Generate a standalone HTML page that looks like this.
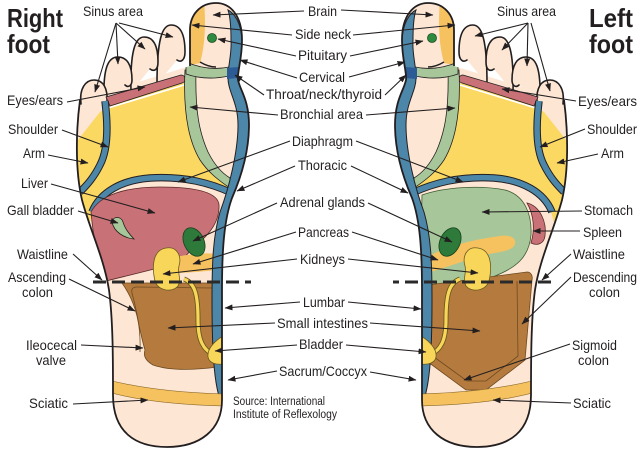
<!DOCTYPE html>
<html><head><meta charset="utf-8"><style>
html,body{margin:0;padding:0;background:#fff;}
svg{display:block;}
.t{font-family:"Liberation Sans",Arial,sans-serif;font-size:14px;fill:#231f20;}
.s{font-family:"Liberation Sans",Arial,sans-serif;font-size:11.5px;fill:#231f20;}
.h{font-family:"Liberation Sans",Arial,sans-serif;font-size:26px;font-weight:bold;fill:#231f20;}
</style></head><body>
<svg width="640" height="449" viewBox="0 0 640 449" xmlns="http://www.w3.org/2000/svg">
<rect width="640" height="449" fill="#fff"/>
<defs>
<marker id="ah" viewBox="0 0 8 6" refX="7.5" refY="3" markerWidth="8" markerHeight="6" orient="auto" markerUnits="userSpaceOnUse"><path d="M0,0 L8,3 L0,6 Z" fill="#231f20"/></marker>
<path id="bodyR" d="M80,100 C76,130 75,170 82,200 C90,230 104,258 109,290 C113,320 113,360 113,395 C113,432 135,447 167,447 C200,447 222,430 222,400 L222,290 C222,250 224,220 232,198 C242,175 249,150 249,125 C249,100 240,90 238,80 C237,72 242,60 242,40 C242,15 230,3 216,3 C200,3 190,15 190,30 L190,66"/>
<clipPath id="clipR"><use href="#bodyR"/></clipPath>
<clipPath id="clipL"><use href="#bodyR" transform="translate(644 0) scale(-1 1)"/></clipPath>

<g id="baseA">
 <use href="#bodyR" fill="#fde6d4"/>
 <g fill="#fde6d4" stroke="#231f20" stroke-width="1.6" stroke-linecap="round">
  <path d="M157,84 C157,40 162,25 171,25 C180,25 185,33 185,52 C185,60 181,63 177,60"/>
  <path d="M131,92 C130,52 135,37 144,37 C153,37 158,45 158,62 C158,70 154,72 150,69"/>
  <path d="M104,100 C103,68 108,57 118,57 C127,57 132,65 132,80 C132,86 128,88 125,85"/>
  <path d="M81,104 C79,88 86,80 94,80 C103,80 108,88 107,102"/>
 </g>
 <g clip-path="url(#clipR)">
  <path fill="#fbd862" d="M70,150 L100,112 L110,106 L182,83 L186,84 C184,112 188,140 200,160 C208,172 218,180 232,186 L232,195 C200,185 170,177 148,178 C120,180 102,193 93,212 L90,222 L60,222 Z"/>
  <path fill="#c87176" stroke="#231f20" stroke-width=".8" d="M106,97 L181,75 C186,75 187,82 182,83 L110,106 Z"/>
  <path d="M108,108 L184,85" stroke="#fff" stroke-width="1.6" fill="none"/>
  <path fill="#f6c15f" d="M185,0 L204,0 C206,25 205,45 200,63 L185,66 Z"/>
  <path fill="#a7c79a" stroke="#231f20" stroke-width=".8" d="M185,70 C183,110 188,140 200,160 C208,172 218,180 230,188 L230,178 C220,172 213,162 208,152 C199,132 195,110 196,70 Z"/>
  <path fill="#a7c79a" stroke="#231f20" stroke-width=".8" d="M186,62 C200,68 215,70 229,67 L229,76 C215,79 200,79 186,74 Z"/>
  <path d="M105,101 C108,125 108,150 100,165 C94,177 88,184 80,192" fill="none" stroke="#231f20" stroke-width="7.5"/>
  <path d="M105,101 C108,125 108,150 100,165 C94,177 88,184 80,192" fill="none" stroke="#4c86a9" stroke-width="5.5"/>
  <path d="M92,212 C100,192 122,180 150,178 C185,176 210,183 232,193" fill="none" stroke="#231f20" stroke-width="7.5"/>
  <path d="M92,212 C100,192 122,180 150,178 C185,176 210,183 232,193" fill="none" stroke="#4c86a9" stroke-width="5.5"/>
 </g>
 <circle cx="212" cy="38" r="4.5" fill="#2d8a3e" stroke="#1b4d22" stroke-width=".8"/>
 <path d="M200,62 C205,65 210,67 216,67" fill="none" stroke="#231f20" stroke-width="1.4"/>
</g>

<g id="baseB">
 <g clip-path="url(#clipR)">
  <path fill="#4c86a9" stroke="#231f20" stroke-width="1" d="M228,10 C234,13 241,22 242,40 C242,60 237,72 238,80 C240,90 249,100 249,125 C249,150 242,175 232,198 C224,220 222,250 222,290 L222,404 C215,390 212,360 212,300 C212,262 213,236 220,212 C229,188 238,152 238,125 C238,102 228,92 228,78 C228,64 232,54 231,40 C231,26 230,16 228,10 Z"/>
  <path fill="#2c5b95" d="M227,68 L238,67 L238,78 L227,79 Z"/>
  <path d="M184,279 C195,283 198,295 198,320 C198,340 203,350 214,355" fill="none" stroke="#6b5a1e" stroke-width="5"/>
  <path d="M184,279 C195,283 198,295 198,320 C198,340 203,350 214,355" fill="none" stroke="#f8d65a" stroke-width="3.2"/>
  <path fill="#f8d65a" stroke="#6b5a1e" stroke-width=".8" d="M223,336 C213,342 207,350 208,357 C209,363 216,365 223,364 Z"/>
  <path fill="#f6c15f" stroke="#8a6a2a" stroke-width=".6" d="M108,380 C140,388 180,393 226,394 L226,406 C180,405 140,401 108,392 Z"/>
 </g>
 <line x1="93" y1="282" x2="251" y2="282" stroke="#2a2a2a" stroke-width="3" stroke-dasharray="13 6"/>
 <use href="#bodyR" fill="none" stroke="#231f20" stroke-width="1.8"/>
</g>
</defs>

<!-- RIGHT FOOT (image left) -->
<use href="#baseA"/>
<g clip-path="url(#clipR)" stroke-width=".8">
 <path fill="#c87176" stroke="#5a2a2a" d="M91,212 C100,195 125,187 160,187 C195,187 218,192 219,205 C220,222 208,236 195,246 L180,262 C160,268 130,275 106,281 C98,262 93,236 91,212 Z"/>
 <path fill="#a7c79a" stroke="#231f20" d="M112,222 C113,216 121,216 123,222 C125,229 129,234 134,239 C124,238 114,232 112,222 Z"/>
 <path fill="#f6c15f" d="M176,257 Q200,252 216,254 L216,270 Q200,272 178,273 Z"/>
 <ellipse cx="194" cy="242" rx="10" ry="15" transform="rotate(-25 194 242)" fill="#2d7a3a" stroke="#17401e"/>
 <path fill="#b57b3e" stroke="#6e4a22" d="M122,283 L218,283 L218,367 C195,370 170,371 153,365 C146,361 143,356 145,350 C142,340 140,330 137,316 C133,300 127,290 122,283 Z"/>
 <path fill="none" stroke="#6e4a22" d="M140,352 C141,330 137,312 132,293 C131,289 133,287 137,287 L212,288"/>
 <path fill="#f8d65a" stroke="#6b5a1e" d="M166,248 C177,246 182,256 179,266 C177,273 182,279 178,286 C172,293 158,291 155,281 C152,268 152,250 166,248 Z"/>
</g>
<use href="#baseB"/>

<!-- LEFT FOOT (image right) -->
<use href="#baseA" transform="translate(644 0) scale(-1 1)"/>
<g clip-path="url(#clipL)" stroke-width=".8">
 <path fill="#a7c79a" stroke="#3c5a32" d="M422,195 C445,187 480,185 505,190 C525,195 532,215 531,235 C529,258 515,268 495,276 L470,288 L420,288 Z"/>
 <path fill="#c87176" stroke="#5a2a2a" d="M527,203 C540,206 547,222 545,236 C544,244 537,246 531,243 C535,230 534,215 527,203 Z"/>
 <path fill="#f6c15f" d="M427,258 C440,248 470,240 500,236 C512,234 518,240 514,246 C510,252 495,252 480,256 C460,262 445,268 430,272 Z"/>
 <ellipse cx="450" cy="242" rx="10" ry="15" transform="rotate(25 450 242)" fill="#2d7a3a" stroke="#17401e"/>
 <path fill="#b57b3e" stroke="#6e4a22" d="M428,285 L527,272 C531,272 533,276 532,280 L525,360 L486,390 L466,390 L428,362 Z"/>
 <path fill="none" stroke="#6e4a22" d="M517,281 L518,356 L486,381 L467,381 L434,357"/>
 <path fill="#f8d65a" stroke="#6b5a1e" d="M478,248 C467,246 462,256 465,266 C467,273 462,279 466,286 C472,293 486,291 489,281 C492,268 492,250 478,248 Z"/>
</g>
<use href="#baseB" transform="translate(644 0) scale(-1 1)"/>

<!-- ARROWS -->
<g stroke="#231f20" stroke-width="1.1" marker-end="url(#ah)" fill="none">
 <line x1="116" y1="23" x2="95" y2="92"/>
 <line x1="116" y1="23" x2="118" y2="64"/>
 <line x1="116" y1="23" x2="145" y2="49"/>
 <line x1="119" y1="23" x2="173" y2="37"/>
 <line x1="67" y1="102" x2="145" y2="87"/>
 <line x1="62" y1="130" x2="108" y2="147"/>
 <line x1="48" y1="155" x2="88" y2="163"/>
 <line x1="51" y1="184" x2="155" y2="213"/>
 <line x1="78" y1="211" x2="118" y2="223"/>
 <line x1="73" y1="254" x2="102" y2="280"/>
 <line x1="69" y1="279" x2="135" y2="311"/>
 <line x1="81" y1="345" x2="143" y2="348"/>
 <line x1="73" y1="404" x2="148" y2="400"/>

 <line x1="304" y1="11" x2="213" y2="15"/>
 <line x1="292" y1="35" x2="192" y2="25"/>
 <line x1="296" y1="56" x2="218" y2="39"/>
 <line x1="297" y1="78" x2="240" y2="60"/>
 <line x1="264" y1="95" x2="235" y2="75"/>
 <line x1="278" y1="115" x2="190" y2="107"/>
 <line x1="290" y1="141" x2="178" y2="182"/>
 <line x1="295" y1="166" x2="237" y2="191"/>
 <line x1="277" y1="203" x2="193" y2="241"/>
 <line x1="296" y1="232" x2="193" y2="264"/>
 <line x1="297" y1="259" x2="163" y2="274"/>
 <line x1="300" y1="302" x2="225" y2="308"/>
 <line x1="275" y1="323" x2="168" y2="328"/>
 <line x1="297" y1="345" x2="215" y2="351"/>
 <line x1="277" y1="371" x2="228" y2="380"/>

 <line x1="341" y1="10" x2="433" y2="15"/>
 <line x1="353" y1="35" x2="455" y2="25"/>
 <line x1="350" y1="56" x2="423" y2="41"/>
 <line x1="349" y1="77" x2="405" y2="62"/>
 <line x1="385" y1="95" x2="406" y2="75"/>
 <line x1="366" y1="115" x2="455" y2="108"/>
 <line x1="356" y1="141" x2="463" y2="182"/>
 <line x1="351" y1="166" x2="408" y2="193"/>
 <line x1="368" y1="203" x2="452" y2="242"/>
 <line x1="352" y1="232" x2="438" y2="260"/>
 <line x1="348" y1="259" x2="478" y2="273"/>
 <line x1="348" y1="302" x2="421" y2="309"/>
 <line x1="370" y1="323" x2="480" y2="331"/>
 <line x1="346" y1="345" x2="426" y2="352"/>
 <line x1="370" y1="372" x2="416" y2="380"/>

 <line x1="528" y1="23" x2="475" y2="36"/>
 <line x1="528" y1="23" x2="502" y2="50"/>
 <line x1="528" y1="23" x2="527" y2="66"/>
 <line x1="531" y1="23" x2="550" y2="91"/>
 <line x1="576" y1="101" x2="502" y2="89"/>
 <line x1="585" y1="129" x2="540" y2="147"/>
 <line x1="598" y1="154" x2="557" y2="163"/>
 <line x1="582" y1="211" x2="482" y2="212"/>
 <line x1="580" y1="231" x2="533" y2="231"/>
 <line x1="571" y1="254" x2="542" y2="280"/>
 <line x1="571" y1="277" x2="522" y2="324"/>
 <line x1="570" y1="344" x2="464" y2="380"/>
 <line x1="571" y1="403" x2="493" y2="400"/>
</g>

<!-- TEXT -->
<g>
<text class="h" x="7" y="27" textLength="56" lengthAdjust="spacingAndGlyphs">Right</text>
<text class="h" x="7" y="53" textLength="43" lengthAdjust="spacingAndGlyphs">foot</text>
<text class="h" x="589" y="27" textLength="44" lengthAdjust="spacingAndGlyphs">Left</text>
<text class="h" x="589" y="53" textLength="44" lengthAdjust="spacingAndGlyphs">foot</text>

<text class="t" x="83" y="16" textLength="60" lengthAdjust="spacingAndGlyphs">Sinus area</text>
<text class="t" x="7" y="105" textLength="56" lengthAdjust="spacingAndGlyphs">Eyes/ears</text>
<text class="t" x="8" y="134" textLength="50" lengthAdjust="spacingAndGlyphs">Shoulder</text>
<text class="t" x="23" y="158" textLength="22" lengthAdjust="spacingAndGlyphs">Arm</text>
<text class="t" x="21" y="188" textLength="27" lengthAdjust="spacingAndGlyphs">Liver</text>
<text class="t" x="7" y="215" textLength="67" lengthAdjust="spacingAndGlyphs">Gall bladder</text>
<text class="t" x="17" y="259" textLength="51" lengthAdjust="spacingAndGlyphs">Waistline</text>
<text class="t" x="8" y="282" textLength="58" lengthAdjust="spacingAndGlyphs">Ascending</text>
<text class="t" x="22" y="297" textLength="31" lengthAdjust="spacingAndGlyphs">colon</text>
<text class="t" x="26" y="350" textLength="51" lengthAdjust="spacingAndGlyphs">Ileocecal</text>
<text class="t" x="36" y="365" textLength="30" lengthAdjust="spacingAndGlyphs">valve</text>
<text class="t" x="29" y="408" textLength="39" lengthAdjust="spacingAndGlyphs">Sciatic</text>

<text class="t" x="308" y="16" textLength="29" lengthAdjust="spacingAndGlyphs">Brain</text>
<text class="t" x="295" y="39" textLength="56" lengthAdjust="spacingAndGlyphs">Side neck</text>
<text class="t" x="298" y="60" textLength="49" lengthAdjust="spacingAndGlyphs">Pituitary</text>
<text class="t" x="299" y="82" textLength="46" lengthAdjust="spacingAndGlyphs">Cervical</text>
<text class="t" x="266" y="99" textLength="116" lengthAdjust="spacingAndGlyphs">Throat/neck/thyroid</text>
<text class="t" x="280" y="119" textLength="83" lengthAdjust="spacingAndGlyphs">Bronchial area</text>
<text class="t" x="292" y="146" textLength="61" lengthAdjust="spacingAndGlyphs">Diaphragm</text>
<text class="t" x="298" y="170" textLength="49" lengthAdjust="spacingAndGlyphs">Thoracic</text>
<text class="t" x="280" y="207" textLength="85" lengthAdjust="spacingAndGlyphs">Adrenal glands</text>
<text class="t" x="298" y="237" textLength="51" lengthAdjust="spacingAndGlyphs">Pancreas</text>
<text class="t" x="300" y="264" textLength="45" lengthAdjust="spacingAndGlyphs">Kidneys</text>
<text class="t" x="303" y="307" textLength="42" lengthAdjust="spacingAndGlyphs">Lumbar</text>
<text class="t" x="277" y="328" textLength="91" lengthAdjust="spacingAndGlyphs">Small intestines</text>
<text class="t" x="299" y="349" textLength="44" lengthAdjust="spacingAndGlyphs">Bladder</text>
<text class="t" x="279" y="376" textLength="88" lengthAdjust="spacingAndGlyphs">Sacrum/Coccyx</text>
<text class="s" x="233" y="405" textLength="92" lengthAdjust="spacingAndGlyphs">Source: International</text>
<text class="s" x="233" y="418" textLength="104" lengthAdjust="spacingAndGlyphs">Institute of Reflexology</text>

<text class="t" x="497" y="16" textLength="59" lengthAdjust="spacingAndGlyphs">Sinus area</text>
<text class="t" x="578" y="106" textLength="59" lengthAdjust="spacingAndGlyphs">Eyes/ears</text>
<text class="t" x="587" y="134" textLength="50" lengthAdjust="spacingAndGlyphs">Shoulder</text>
<text class="t" x="601" y="158" textLength="23" lengthAdjust="spacingAndGlyphs">Arm</text>
<text class="t" x="584" y="215" textLength="49" lengthAdjust="spacingAndGlyphs">Stomach</text>
<text class="t" x="583" y="237" textLength="39" lengthAdjust="spacingAndGlyphs">Spleen</text>
<text class="t" x="573" y="259" textLength="52" lengthAdjust="spacingAndGlyphs">Waistline</text>
<text class="t" x="573" y="282" textLength="64" lengthAdjust="spacingAndGlyphs">Descending</text>
<text class="t" x="589" y="297" textLength="31" lengthAdjust="spacingAndGlyphs">colon</text>
<text class="t" x="572" y="350" textLength="45" lengthAdjust="spacingAndGlyphs">Sigmoid</text>
<text class="t" x="578" y="365" textLength="31" lengthAdjust="spacingAndGlyphs">colon</text>
<text class="t" x="573" y="408" textLength="38" lengthAdjust="spacingAndGlyphs">Sciatic</text>
</g>
</svg>
</body></html>
